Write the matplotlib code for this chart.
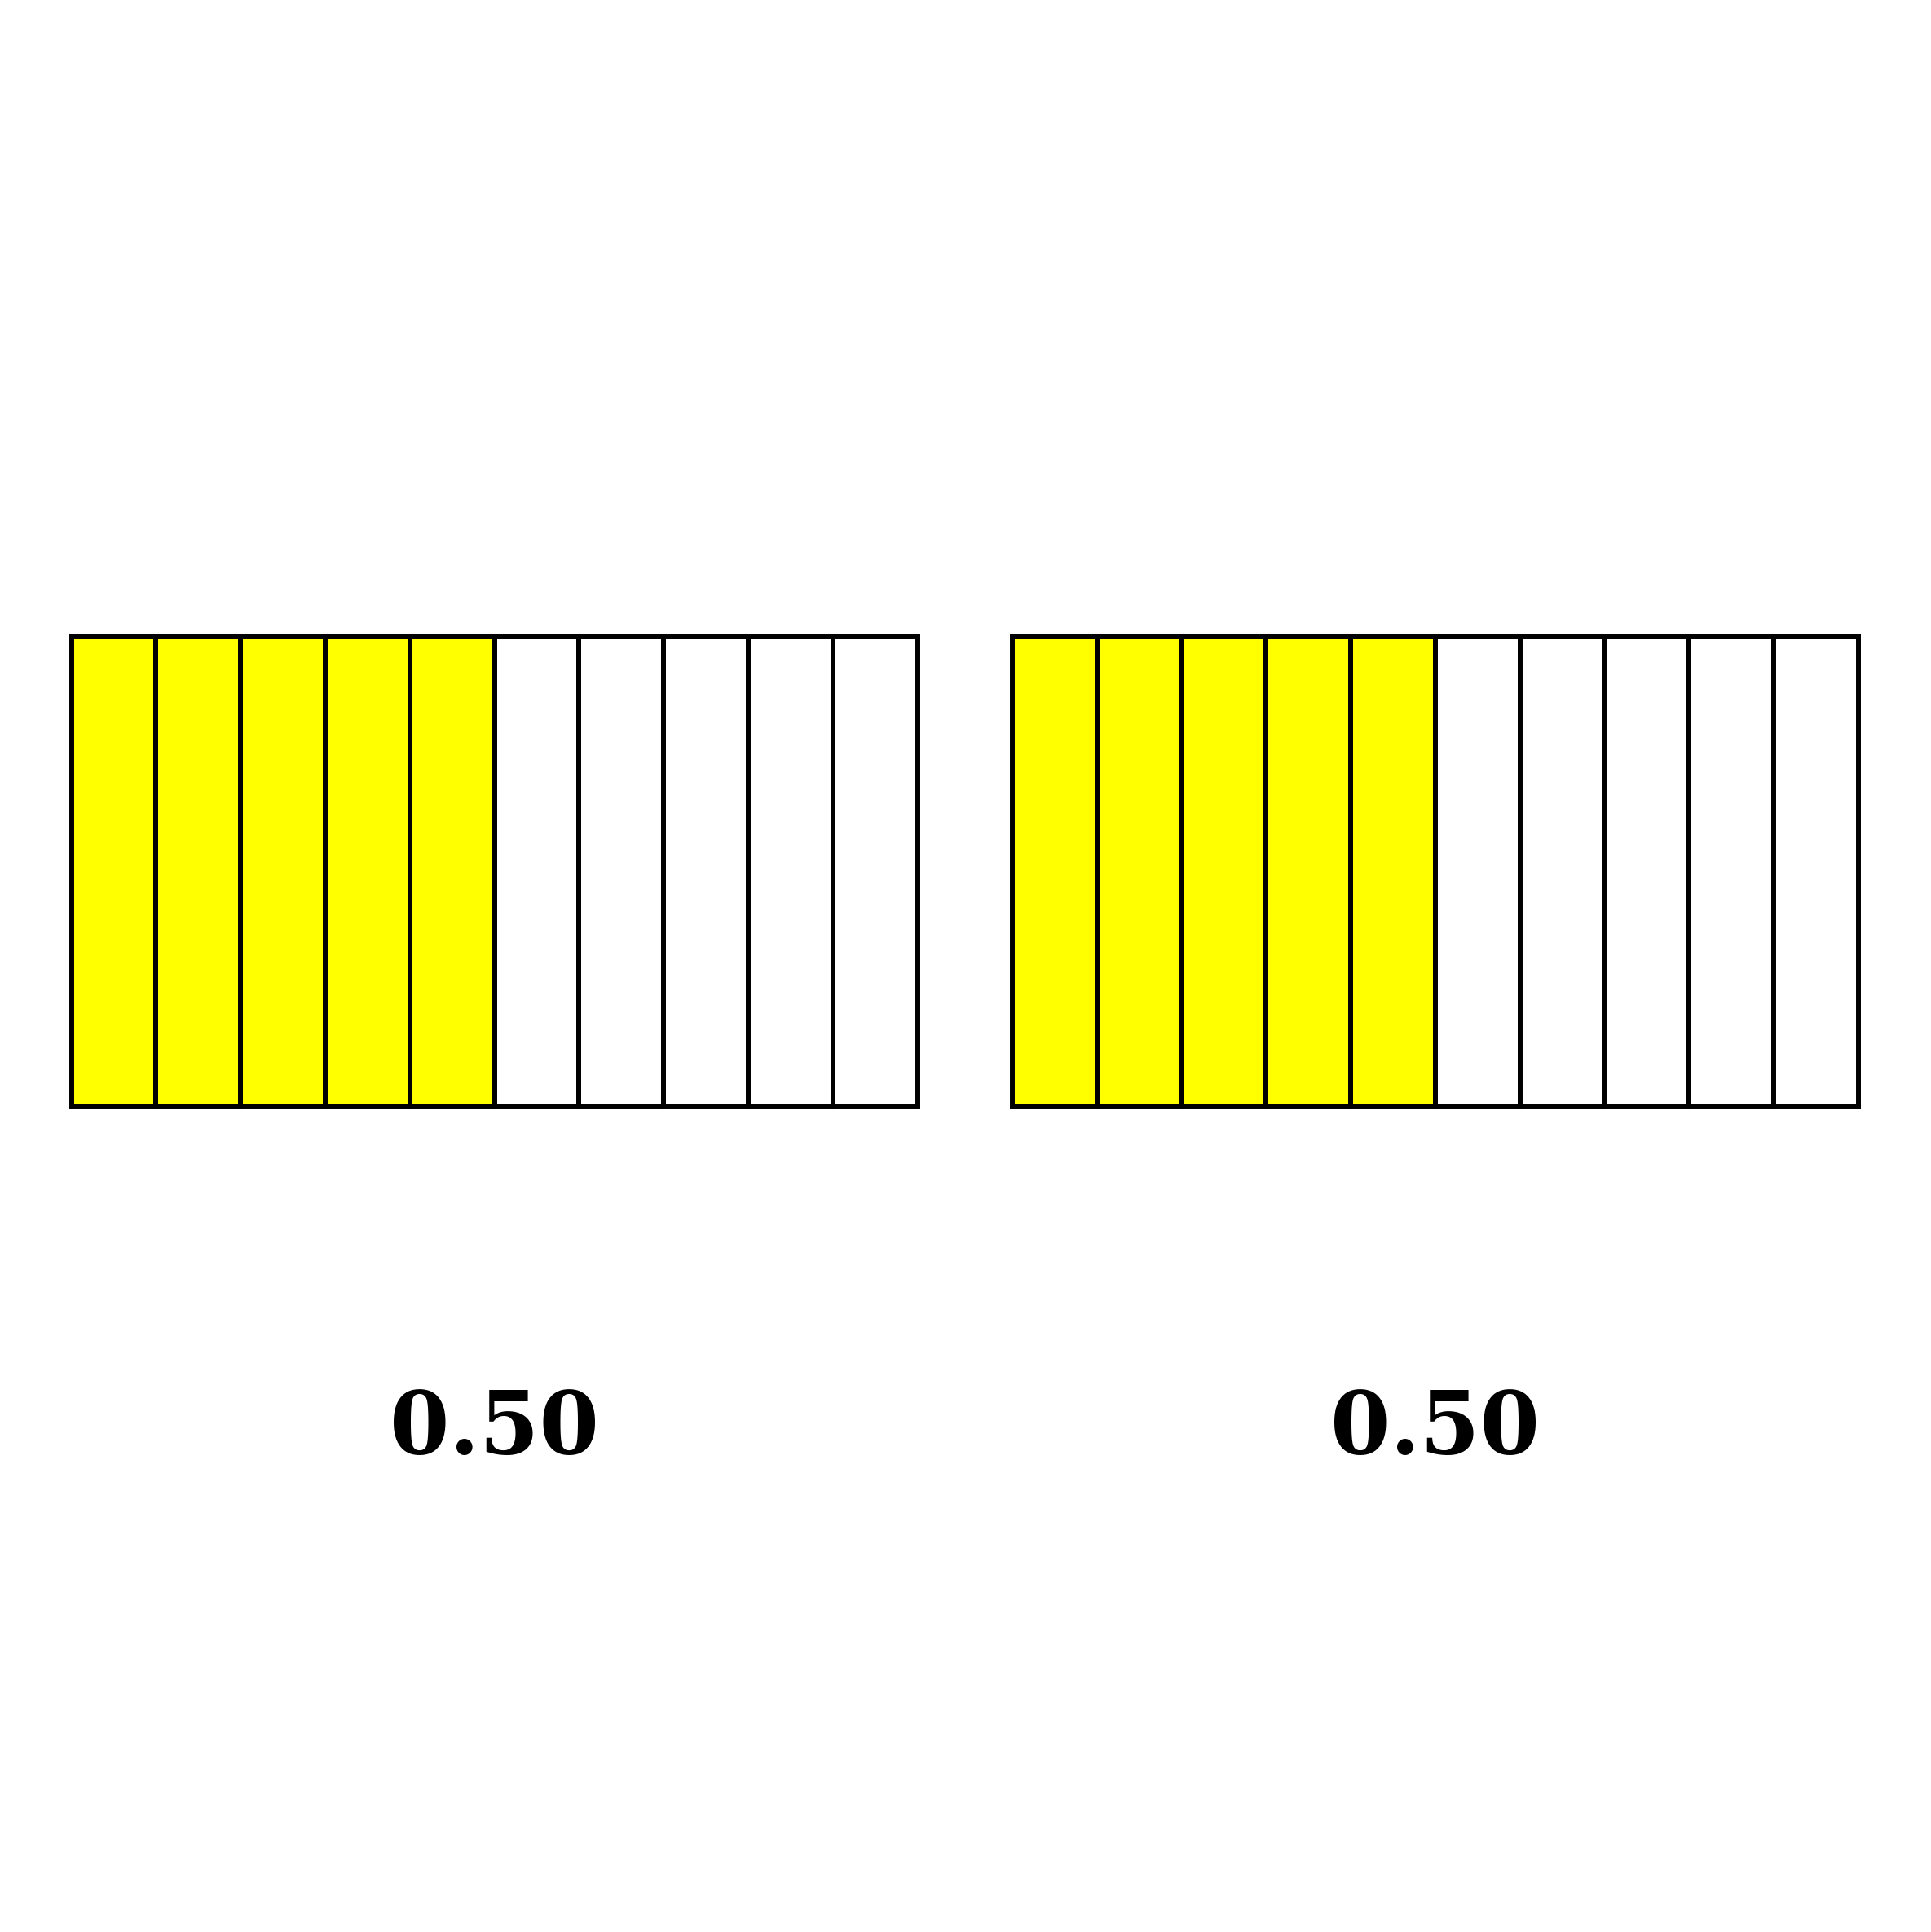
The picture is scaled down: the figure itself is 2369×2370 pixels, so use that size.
import matplotlib
matplotlib.use("Agg")
import matplotlib.pyplot as plt
from matplotlib.patches import Rectangle

# data
n_parts = [10, 10]
shaded = [5, 5]
labels = ["0.50", "0.50"]

W, H = 1568.0, 1568.0
fig = plt.figure(figsize=(23.69, 23.70), dpi=100)
ax = fig.add_axes([0, 0, 1, 1])
ax.set_xlim(0, W)
ax.set_ylim(H, 0)
ax.axis("off")

lefts = [58, 822]
bar_w = 687
top, bot = 517, 898

for k in range(len(n_parts)):
    cw = bar_w / n_parts[k]
    for i in range(n_parts[k]):
        fc = "#ffff00" if i < shaded[k] else "white"
        ax.add_patch(Rectangle((lefts[k] + i * cw, top), cw, bot - top,
                               facecolor=fc, edgecolor="black", linewidth=4.3))
    ax.text(lefts[k] + bar_w / 2, 1160, labels[k], ha="center", va="center",
            fontsize=76, fontweight="bold", family="DejaVu Serif")

fig.savefig("out.png", dpi=100, facecolor="white")
